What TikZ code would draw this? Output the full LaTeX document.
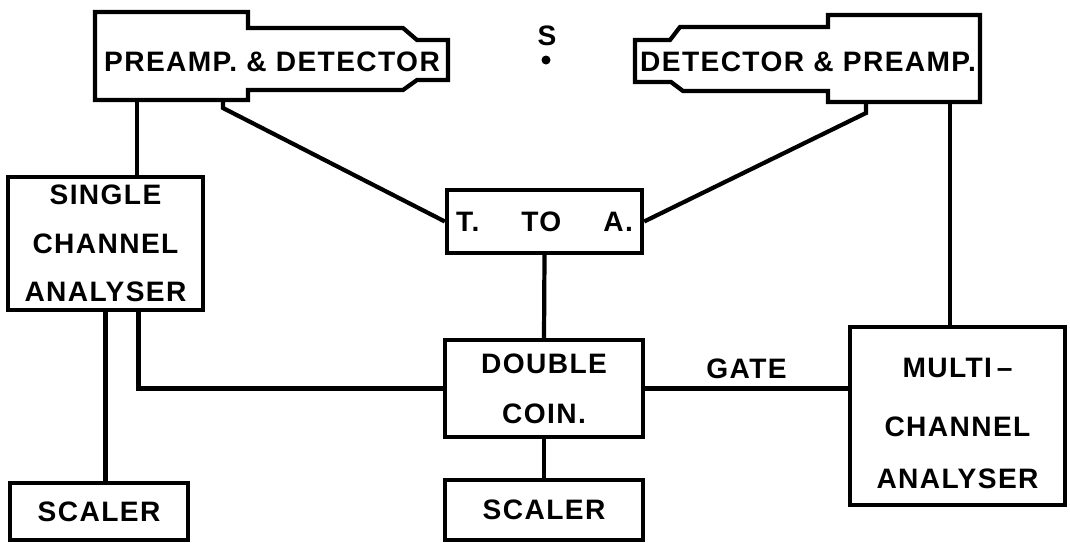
\documentclass[tikz,border=0pt]{standalone}
\usepackage{fontspec}
\setsansfont[LetterSpace=5]{Liberation Sans}
\usepackage{tikz}
\usetikzlibrary{positioning}

\tikzset{
  caja/.style={draw, rectangle, align=center, inner sep=0pt}
}

\begin{document}
\begin{tikzpicture}[x=0.025cm,y=-0.025cm,line width=3pt,line join=miter,
    font=\sffamily\bfseries\fontsize{20}{24}\selectfont]
	\useasboundingbox (0,0) rectangle (1070,542);
	% detectores
	\draw (95,12) -- (248,12) -- (248,28) -- (403,28) -- (417,40) -- (448,40) -- (448,80)
	  -- (417,80) -- (403,90) -- (248,90) -- (248,100) -- (95,100) -- cycle;
	\node (detI) at (272,62) {PREAMP. \& DETECTOR};
	\draw (980,15) -- (980,102) -- (828,102) -- (828,91) -- (683,91) -- (671,82) -- (635,82)
	  -- (635,40) -- (670,40) -- (680,27) -- (828,27) -- (828,15) -- cycle;
	\node (detD) at (808,62) {DETECTOR \& PREAMP.};
	\coordinate (detI-a) at (137,100);
	\coordinate (detI-b) at (223,100);
	\coordinate (detD-b) at (866,102);
	\coordinate (detD-a) at (950,102);
	% fuente
	\node (s) at (547,36) {S};
	\fill (546,60) circle [radius=4.5];
	% cajas
	\node[caja, minimum width=4.875cm, minimum height=3.325cm] (sca) at (105.5,243.5)
	  {SINGLE\\[10.5pt]CHANNEL\\[10.5pt]ANALYSER};
	\node[caja, minimum width=4.45cm, minimum height=1.425cm] (scl1) at (99,511.5) {SCALER};
	\node[caja, minimum width=4.875cm, minimum height=1.575cm] (toa) at (544.5,221.5)
	  {T.\hspace{1.05cm}TO\hspace{1.05cm}A.};
	\node[caja, minimum width=4.95cm, minimum height=2.425cm] (dc) at (544,388.5)
	  {DOUBLE\\[11.5pt]COIN.};
	\node[caja, minimum width=5.375cm, minimum height=4.45cm] (mca) at (957.5,416)
	  {\rule{0pt}{24pt}MULTI\,--\\[18pt]CHANNEL\\[13pt]ANALYSER};
	\node[caja, minimum width=4.95cm, minimum height=1.5cm] (scl2) at (544,510) {SCALER};
	% conexiones
	\draw (detI-a) -- (detI-a |- sca.north);
	\draw (detI-b) -- ++(0,8) -- (toa.west);
	\draw (detD-b) -- ++(0,11) -- (toa.east);
	\draw (detD-a) -- (detD-a |- mca.north);
	\draw (toa.south) -- (dc.north);
	\draw (dc.south) -- (scl2.north);
	\draw (dc.east) -- node[above=2pt] {GATE} (dc.east -| mca.west);
	\draw (sca.south) -- (sca.south |- scl1.north);
	\draw ([xshift=0.825cm]sca.south) |- (dc.west);
\end{tikzpicture}
\end{document}
